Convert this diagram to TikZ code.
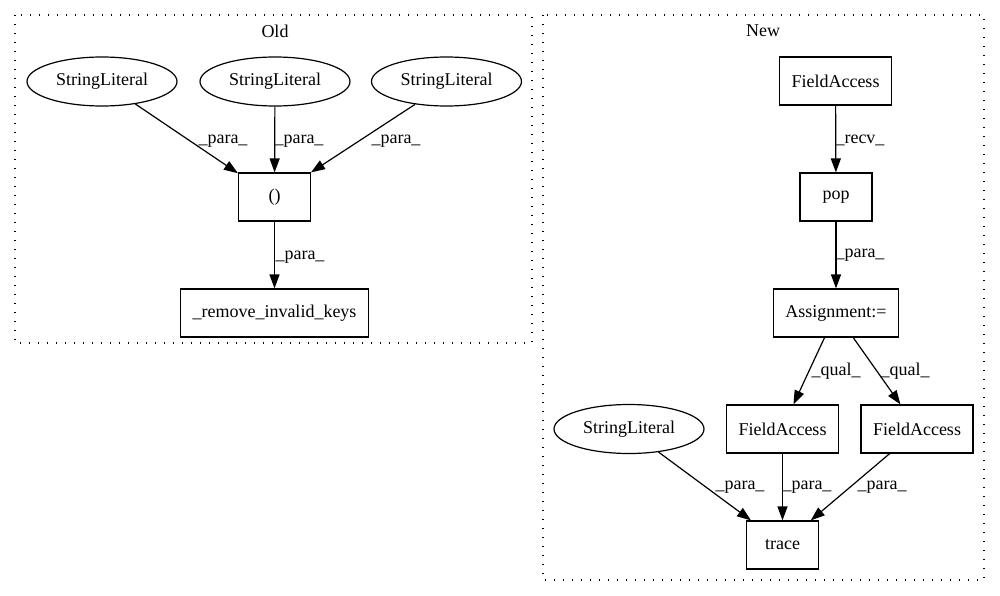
\documentclass[tikz,border=0pt]{standalone}
\usepackage{fontspec}
\setmainfont{Liberation Serif}
\usetikzlibrary{arrows.meta,shapes.geometric}
\begin{document}
\begin{tikzpicture}[x=0.75pt, y=-0.75pt,
    every node/.style={font=\fontsize{13.5}{16}\selectfont},
    box/.style={draw, rectangle, line width=0.9pt, minimum width=54pt, minimum height=36pt, inner xsep=9pt},
    lit/.style={draw, ellipse, line width=0.9pt, minimum width=112.5pt, minimum height=36.75pt, inner sep=0pt},
    cluster/.style={line width=1pt, dash pattern=on 1pt off 5.75pt},
    edge/.style={-{Triangle[length=10.5pt, width=7.5pt]}, line width=0.9pt}]
            \useasboundingbox (0,0) rectangle (1000,596);
            \draw[cluster] (15,15) rectangle (532,343);
            \draw[cluster] (543,15) rectangle (984,580);
            \node (old) at (275,31) {Old};
            \node (new) at (763,31) {New};
            \node[lit] (s1) at (102,81.5) {StringLiteral};
            \node[lit] (s2) at (275,81.5) {StringLiteral};
            \node[lit] (s3) at (446.5,81.5) {StringLiteral};
            \node[box] (tup) at (274.5,197) {()};
            \node[box] (rik) at (274.5,313) {\_remove\_invalid\_keys};
            \node[box] (fa1) at (835.5,81) {FieldAccess};
            \node[box] (pop) at (836,197) {pop};
            \node[box] (asg) at (836,313) {Assignment:=};
            \node[lit] (s4) at (629,429) {StringLiteral};
            \node[box] (fa2) at (782.5,429) {FieldAccess};
            \node[box] (fa3) at (917,429) {FieldAccess};
            \node[box] (trc) at (782.5,545) {trace};
            \draw[edge] (s1.-34) -- (tup.147);
            \draw[edge] (s2) -- (tup);
            \draw[edge] (s3.216) -- (tup.34);
            \draw[edge] (tup) -- (rik);
            \draw[edge] (fa1) -- (pop);
            \draw[edge] (pop) -- (asg);
            \draw[edge] (asg.245) -- (fa2.66);
            \draw[edge] (asg.305) -- (fa3.124);
            \draw[edge] (s4.-38) -- (trc.142);
            \draw[edge] (fa2) -- (trc);
            \draw[edge] (fa3.222) -- (trc.41);
            \node (l1) at (223,141) {\_para\_};
            \node (l2) at (299,141) {\_para\_};
            \node (l3) at (396,141) {\_para\_};
            \node (l4) at (300,257) {\_para\_};
            \node (l5) at (860,140) {\_recv\_};
            \node (l6) at (860,255) {\_para\_};
            \node (l7) at (836,371) {\_qual\_};
            \node (l8) at (905,371) {\_qual\_};
            \node (l9) at (740,487) {\_para\_};
            \node (l10) at (807,487) {\_para\_};
            \node (l11) at (882,487) {\_para\_};
         \end{tikzpicture}
\end{document}
